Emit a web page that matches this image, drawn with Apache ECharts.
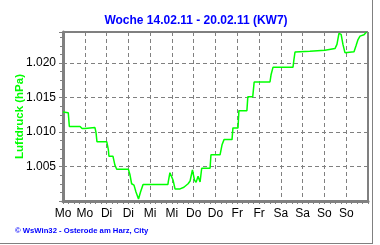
<!DOCTYPE html>
<html>
<head>
<meta charset="utf-8">
<script src="https://cdn.jsdelivr.net/npm/echarts@6/dist/echarts.min.js"></script>
<style>html,body{margin:0;padding:0;background:#fff;}#c{width:380px;height:245px;}</style>
</head>
<body>
<div id="c"></div>
<script>
var titleText = 'Woche 14.02.11 - 20.02.11 (KW7)';
var yAxisName = 'Luftdruck (hPa)';
var footerText = '\u00a9 WsWin32 - Osterode am Harz, City';
var dayLabels = ['Mo','Mo','Di','Di','Mi','Mi','Do','Do','Fr','Fr','Sa','Sa','So','So'];
// hours since Monday 00:00
var hours = [0,2.9,3.5,9.4,10.5,12.1,13.2,17.6,18.2,18.7,24.1,25,25.3,27.5,28.6,29.6,36,36.9,37.8,39.1,40.2,41.6,42.7,44.1,50.7,57.8,58,58.9,59.9,60.6,61.7,64.5,66.6,68.9,70,71.3,72.4,73.3,74.4,75.5,76.4,81,81.5,86.5,87.6,88.7,93.1,93.6,96.4,96.9,101.3,101.8,104.5,105.3,114,114.6,115.7,126.7,127.2,127.8,136,144.3,149.8,150.9,152,153.2,154.2,155.3,160.3,161.4,162.5,163.6,165.8,167.2];
// pressure in hPa
var pressure = [1012.9,1012.8,1010.8,1010.8,1010.5,1010.5,1010.65,1010.65,1009.9,1008.6,1008.6,1007.4,1006.5,1006.5,1005.2,1004.6,1004.6,1003.8,1002.5,1002.3,1001.3,1000.3,1001.3,1002.4,1002.4,1002.4,1002.8,1004.1,1004.1,1003.05,1001.75,1001.75,1002.0,1002.5,1002.9,1004.5,1003.05,1002.7,1003.6,1002.75,1004.75,1004.75,1006.7,1006.7,1008.15,1008.9,1008.9,1010.6,1010.6,1013.1,1013.1,1015.1,1015.1,1017.25,1017.25,1018.3,1019.4,1019.4,1020.5,1021.6,1021.7,1021.85,1022.1,1022.7,1024.3,1024.15,1022.7,1021.5,1021.65,1022.5,1023.4,1023.9,1024.1,1024.5];
var yMin = 1000, yMax = 1024.5, yStep = 5;

var data = hours.map(function(h,i){return [h, pressure[i]];});
var chart = echarts.init(document.getElementById('c'), null, {renderer:'canvas'});
chart.setOption({
  animation:false,
  backgroundColor:'#ffffff',
  title:{text:titleText,left:191,top:10,textAlign:'center',
    textStyle:{color:'#0000ff',fontFamily:'Liberation Sans',fontSize:12,fontWeight:'bold'}},
  grid:{left:63,right:12,top:32,bottom:44,show:true,borderColor:'#000',borderWidth:1,backgroundColor:'transparent',
    containLabel:false,outerBoundsMode:'none'},
  xAxis:{type:'value',min:0,max:168,interval:12,
    axisLine:{show:true,onZero:false,lineStyle:{color:'#808080',width:3}},
    axisTick:{show:true,length:3,lineStyle:{color:'#808080',width:1}},
    minorTick:{show:true,splitNumber:4,length:3,lineStyle:{color:'#808080',width:1}},
    splitLine:{show:true,lineStyle:{color:'#808080',type:[4,3],width:1}},
    axisLabel:{margin:7,color:'#000',fontFamily:'Liberation Sans',fontSize:12,
      formatter:function(v){var i=Math.round(v/12);return (i<dayLabels.length)?dayLabels[i]:'';},
      showMaxLabel:false}
  },
  yAxis:{type:'value',min:yMin,max:yMax,interval:yStep,
    name:yAxisName,nameLocation:'middle',nameRotate:90,nameGap:37,nameMoveOverlap:false,
    nameTextStyle:{color:'#00ff00',fontFamily:'Liberation Sans',fontSize:11.5,fontWeight:'bold'},
    axisLine:{show:true,onZero:false,lineStyle:{color:'#808080',width:3}},
    axisTick:{show:true,length:4,lineStyle:{color:'#808080',width:1}},
    minorTick:{show:true,splitNumber:4,length:3,lineStyle:{color:'#808080',width:1}},
    splitLine:{show:true,lineStyle:{color:'#808080',type:[4,3],width:1}},
    axisLabel:{margin:7,color:'#000',fontFamily:'Liberation Sans',fontSize:12,
      formatter:function(v){if(v%5!==0||v<=yMin)return '';var r=String(Math.round(v-1000));while(r.length<3)r='0'+r;return '1.'+r;}}
  },
  graphic:[
    {type:'text',left:15,top:227,style:{text:footerText,fill:'#0000ff',font:'bold 7.7px "Liberation Sans"'}},
    {type:'line',shape:{x1:372.5,y1:0,x2:372.5,y2:243.5},style:{stroke:'#808080',lineWidth:1}},
    {type:'line',shape:{x1:0,y1:243.5,x2:373,y2:243.5},style:{stroke:'#808080',lineWidth:1}}
  ],
  series:[{type:'line',data:data,showSymbol:false,lineStyle:{color:'#00ff00',width:1.5},silent:true}]
});
</script>
</body>
</html>
